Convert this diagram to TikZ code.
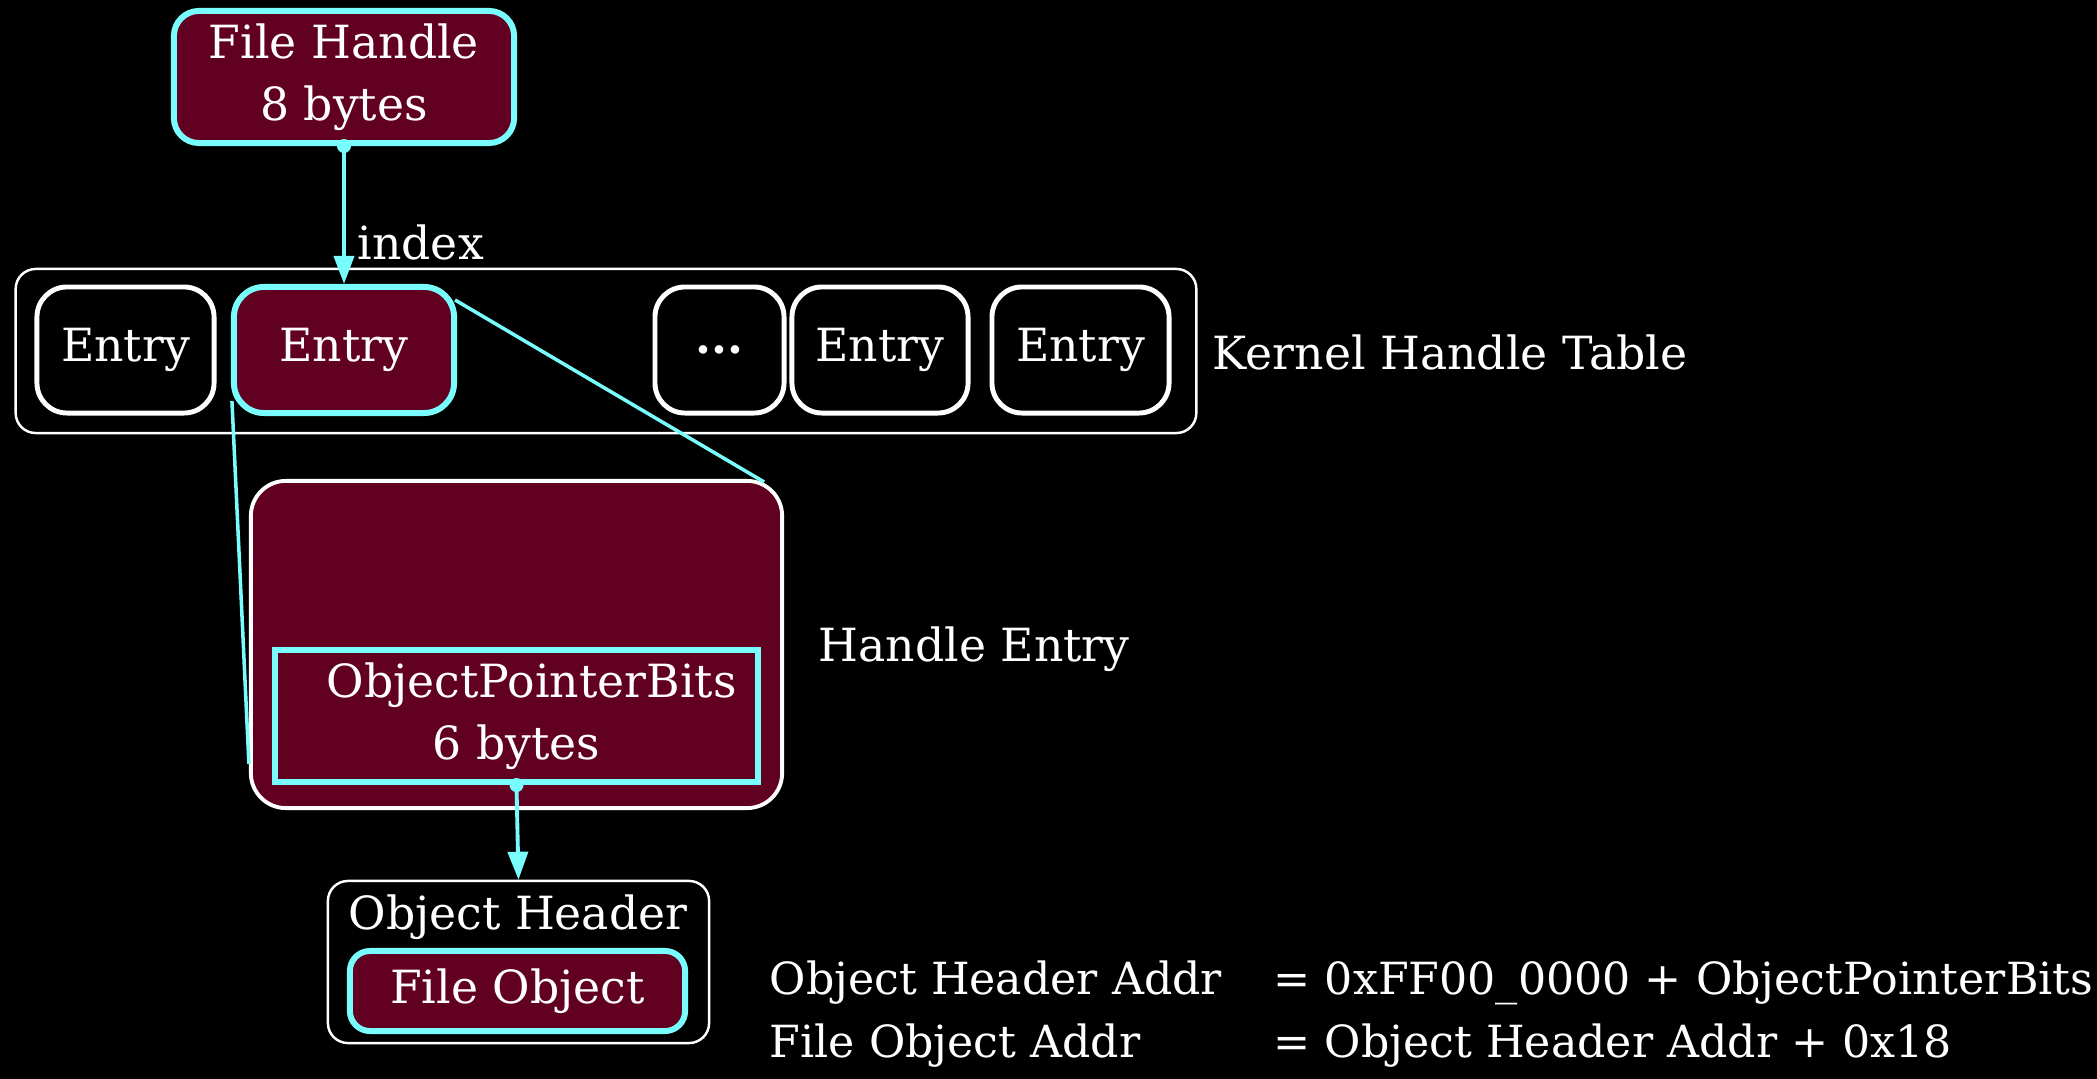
\documentclass[tikz,border=0pt]{standalone}
\usepackage{fontspec}
\setmainfont{DejaVu Serif}
\usetikzlibrary{arrows.meta,calc,positioning}
\definecolor{handlered}{RGB}{98,0,34}
\definecolor{linkcyan}{RGB}{120,252,252}
\tikzset{
%Define standard arrow tip
>={Triangle[length=0.28cm,width=0.2cm]},
%Define styles for the boxes
entry/.style={draw=white, line width=1.4pt, rounded corners=0.3cm, text=white, minimum height=1.26cm, inner sep=0pt},
chosen/.style={draw=linkcyan, fill=handlered, line width=1.7pt, text=white, inner sep=0pt},
frame box/.style={draw=white, line width=0.7pt, rounded corners=0.2cm, inner sep=0pt},
label text/.style={text=white, anchor=west, inner sep=0pt},
formula/.style={label text, font=\fontsize{12.6pt}{15pt}\selectfont},
pointer/.style={->, draw=linkcyan, line width=1.1pt},
zoom line/.style={draw=linkcyan, line width=1pt},
}
\begin{document}
\begin{tikzpicture}[x=0.01cm, y=-0.01cm, font=\fontsize{13pt}{17.5pt}\selectfont]
% Background and page size
\fill[black] (0,0) rectangle (2097,1079);
\useasboundingbox (0,0) rectangle (2097,1079);
% The handle
\node[chosen, rounded corners=0.25cm, minimum width=3.4cm, minimum height=1.32cm, align=center] (fh) at (344,77) {File Handle\\8 bytes};
% Kernel handle table
\node[frame box, minimum width=11.8cm, minimum height=1.64cm] (table) at (606,351) {};
\node[entry, minimum width=1.77cm] (e1) at (125.5,350) {Entry};
\node[chosen, rounded corners=0.3cm, minimum width=2.2cm, minimum height=1.26cm] (e2) at (344,350) {Entry};
\node[entry, minimum width=1.29cm] (e3) at (719.5,350) {\textbf{...}};
\node[entry, minimum width=1.76cm] (e4) at (880,350) {Entry};
\node[entry, minimum width=1.77cm] (e5) at (1080.5,350) {Entry};
\node[label text] (tablename) at (1212,352) {Kernel Handle Table};
% Handle entry
\node[draw=white, fill=handlered, line width=1.1pt, rounded corners=0.35cm, minimum width=5.31cm, minimum height=3.27cm, inner sep=0pt] (he) at (516.5,644.5) {};
\node[chosen, minimum width=4.83cm, minimum height=1.32cm, align=center] (opb) at (516.5,716) {\hspace*{0.3cm}ObjectPointerBits\\6 bytes};
\node[label text] (hename) at (818,649) {Handle Entry};
% Object header
\node[frame box, minimum width=3.81cm, minimum height=1.62cm] (oh) at (518.5,962) {};
\node[text=white] (ohname) at (518,917) {Object Header};
\node[chosen, rounded corners=0.2cm, minimum width=3.35cm, minimum height=0.8cm] (fo) at (517.5,991) {File Object};
% Address formulas
\node[formula] (f1) at (769,983) {Object Header Addr};
\node[formula] (f1v) at (1273,983) {= 0xFF00\_0000 + ObjectPointerBits};
\node[formula] (f2) at (769,1046) {File Object Addr};
\node[formula] (f2v) at (1273,1046) {= Object Header Addr + 0x18};
% Pointers
\draw[pointer] (fh.south) -- node[pos=0.7, right, text=white] {index} (e2.north);
\fill[linkcyan] (fh.south) circle (0.07cm);
\draw[pointer] (opb.south) -- (oh.north);
\fill[linkcyan] (opb.south) circle (0.07cm);
% Zoom lines
\draw[zoom line] ($(e2.south west)+(1,-15)$) -- ($(he.south west)+(0,-46)$);
\draw[zoom line] ($(e2.north east)+(-2,16)$) -- ($(he.north east)+(-20,3)$);
\end{tikzpicture}
\end{document}
